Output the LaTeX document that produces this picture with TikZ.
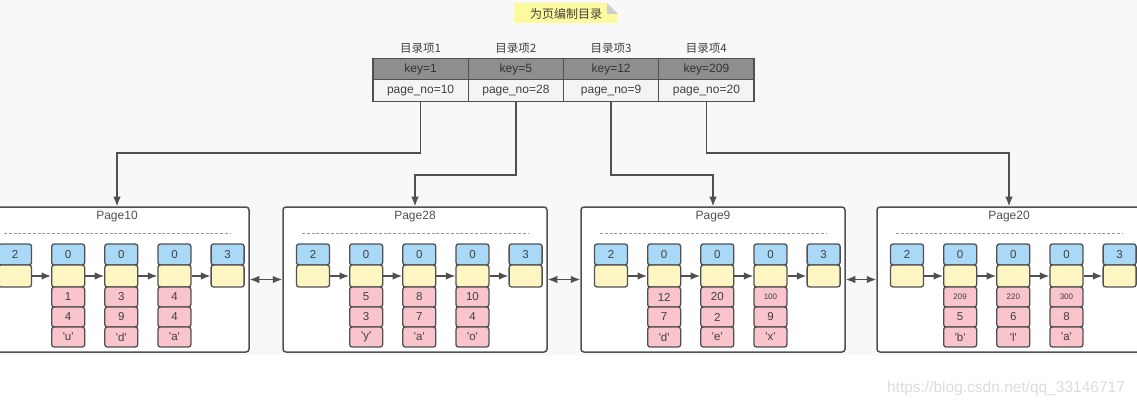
\documentclass[tikz,border=0pt]{standalone}
\usepackage{fontspec}
\setmainfont{Liberation Sans}[Ligatures=TeXOff]
\newfontfamily\cjk{Noto Sans CJK SC}
\usetikzlibrary{arrows.meta, positioning}
\definecolor{linegray}{HTML}{505050}
\definecolor{txtgray}{HTML}{404040}
\definecolor{bggray}{HTML}{F8F8F8}
\definecolor{keyfill}{HTML}{8E8E8E}
\definecolor{nofill}{HTML}{F4F4F4}
\definecolor{notefill}{HTML}{FDF99E}
\definecolor{foldgray}{HTML}{CFCFCF}
\definecolor{recblue}{HTML}{AAD8F7}
\definecolor{recyellow}{HTML}{FDF6C3}
\definecolor{recpink}{HTML}{F9C4CB}
\definecolor{wmgray}{HTML}{DCDCDC}

\begin{document}
\begin{tikzpicture}[x=1pt, y=-1pt,
    every node/.style={text=txtgray, font=\fontsize{11.5}{13}\selectfont},
    cell/.style={draw=linegray, line width=1.1pt, minimum width=95.25pt, minimum height=21.5pt, inner sep=0pt, font=\fontsize{12}{14}\selectfont},
    keycell/.style={cell, fill=keyfill, text=black!80},
    nocell/.style={cell, fill=nofill},
    page/.style={draw=linegray, line width=1.5pt, rounded corners=3pt, fill=white, minimum width=264pt, minimum height=145pt, inner sep=0pt},
    rec/.style={draw=linegray, line width=1.3pt, rounded corners=2.5pt, minimum width=33pt, inner sep=0pt},
    hdr/.style={rec, fill=recblue, minimum height=21pt},
    nxt/.style={rec, fill=recyellow, minimum height=22pt},
    col/.style={rec, fill=recpink, minimum height=20pt},
    arr/.style={-{Latex[length=9.5pt,width=7.5pt]}, draw=linegray, line width=1.3pt},
    link/.style={{Latex[length=9.5pt,width=7.5pt]}-{Latex[length=9.5pt,width=7.5pt]}, draw=linegray, line width=1.3pt}
]
    \useasboundingbox (0,0) rectangle (1137,406);
    \fill[bggray] (0,0) rectangle (1137,355);

    \fill[notefill] (514,3) -- (607,3) -- (618,14) -- (618,23) -- (514,23) -- cycle;
    \fill[foldgray] (607,3) -- (618,14) -- (607,14) -- cycle;
    \node[font=\cjk\fontsize{12}{14}\selectfont] (note) at (566,14) {为页编制目录};

    \node[keycell] (k1) at (420.6,69) {key=1};
    \node[keycell] (k2) at (515.9,69) {key=5};
    \node[keycell] (k3) at (611.1,69) {key=12};
    \node[keycell] (k4) at (706.4,69) {key=209};
    \node[nocell] (n1) at (420.6,90.5) {page\_no=10};
    \node[nocell] (n2) at (515.9,90.5) {page\_no=28};
    \node[nocell] (n3) at (611.1,90.5) {page\_no=9};
    \node[nocell] (n4) at (706.4,90.5) {page\_no=20};
    \node[above=1pt of k1, font=\cjk\fontsize{11.5}{13}\selectfont] (h1) {目录项1};
    \node[above=1pt of k2, font=\cjk\fontsize{11.5}{13}\selectfont] (h2) {目录项2};
    \node[above=1pt of k3, font=\cjk\fontsize{11.5}{13}\selectfont] (h3) {目录项3};
    \node[above=1pt of k4, font=\cjk\fontsize{11.5}{13}\selectfont] (h4) {目录项4};

    \foreach \pg/\cx in {10/117, 28/415, 9/713, 20/1009} {
        \node[page] (p\pg) at (\cx,279.5) {};
        \node[font=\fontsize{12}{14}\selectfont, text=linegray] (t\pg) at (\cx,217) {Page\pg};
        \draw[dashed, dash pattern=on 3pt off 1.8pt, gray!80, line width=0.9pt] (\cx-113,233) -- (\cx+113,233);
        \node[hdr] (p\pg-0-h) at (\cx-102,254.5) {2};
        \node[nxt] (p\pg-0-y) at (\cx-102,276) {};
        \node[hdr] (p\pg-4-h) at (\cx+110.6,254.5) {3};
        \node[nxt] (p\pg-4-y) at (\cx+110.6,276) {};
    }

    \foreach \pg/\cx/\i/\va/\vb/\vc in {
        10/117/1/1/4/u, 10/117/2/3/9/d, 10/117/3/4/4/a,
        28/415/1/5/3/y, 28/415/2/8/7/a, 28/415/3/10/4/o,
        9/713/1/12/7/d, 9/713/2/20/2/e, 9/713/3/{\footnotesize 100}/9/x,
        20/1009/1/{\footnotesize 209}/5/b, 20/1009/2/{\footnotesize 220}/6/l, 20/1009/3/{\footnotesize 300}/8/a} {
        \node[hdr] (p\pg-\i-h) at ({\cx-102+53.15*\i},254.5) {0};
        \node[nxt] (p\pg-\i-y) at ({\cx-102+53.15*\i},276) {};
        \node[col] (p\pg-\i-a) at ({\cx-102+53.15*\i},297) {\va};
        \node[col] (p\pg-\i-b) at ({\cx-102+53.15*\i},317) {\vb};
        \node[col] (p\pg-\i-c) at ({\cx-102+53.15*\i},337) {'\vc'};
    }

    \foreach \pg in {10, 28, 9, 20}
        \foreach \i [count=\j] in {0,...,3}
            \draw[arr] (p\pg-\i-y) -- (p\pg-\j-y);

    \draw[link] (p10) -- (p28);
    \draw[link] (p28) -- (p9);
    \draw[link] (p9) -- (p20);

    \draw[arr] (n1.south) -- (n1.south |- 0,153) -| (p10.north);
    \draw[arr] (n2.south) -- (n2.south |- 0,175) -| (p28.north);
    \draw[arr] (n3.south) -- (n3.south |- 0,175) -| (p9.north);
    \draw[arr] (n4.south) -- (n4.south |- 0,153) -| (p20.north);

    \node[text=wmgray, font=\fontsize{15.5}{17}\selectfont] (wm) at (1006,388) {https://blog.csdn.net/qq\_33146717};
\end{tikzpicture}
\end{document}
